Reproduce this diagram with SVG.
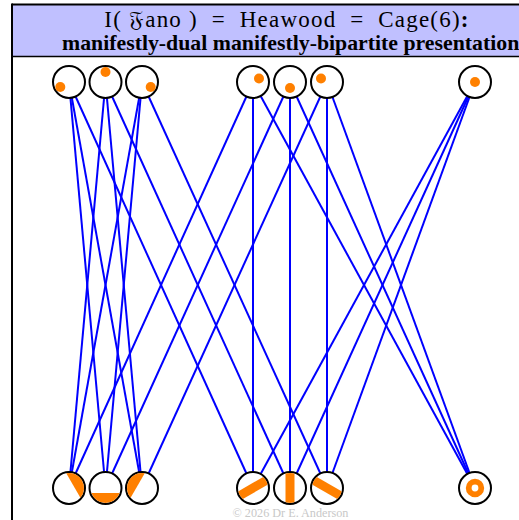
<svg xmlns="http://www.w3.org/2000/svg" width="519" height="520" viewBox="0 0 519 520">
  <defs>
    <style>
      .edge { stroke: #0000ff; stroke-width: 2; fill: none; }
      .node { fill: #ffffff; stroke: #000000; stroke-width: 2; }
      .mark { fill: #ff8000; }
      .ring { fill: none; stroke: #ff8000; stroke-width: 5.8; }
      .title { font-family: "Liberation Serif", serif; font-size: 23px; letter-spacing: 1.2px; fill: #000; }
      .sub { font-family: "Liberation Serif", serif; font-size: 21.8px; font-weight: bold; fill: #000; }
      .credit { font-family: "Liberation Serif", serif; font-size: 12.2px; fill: #c8c8c8; }
    </style>
    <clipPath id="inner">
      <circle cx="0" cy="0" r="15"/>
    </clipPath>
  </defs>

  <!-- header band -->
  <rect x="12" y="4.5" width="520" height="52" fill="#c0c0ff"/>
  <line x1="12" y1="4.5" x2="519" y2="4.5" stroke="#000" stroke-width="2"/>
  <line x1="12" y1="56.5" x2="519" y2="56.5" stroke="#000" stroke-width="1.5"/>
  <line x1="12" y1="3.5" x2="12" y2="520" stroke="#000" stroke-width="2"/>
  <text class="title" x="287" y="27" text-anchor="middle" xml:space="preserve">I( <tspan font-family="DejaVu Serif, DejaVu Sans, serif">𝔉</tspan>ano )  =  Heawood  =  Cage(6)<tspan font-weight="bold">:</tspan></text>
  <text class="sub" x="62" y="50">manifestly-dual manifestly-bipartite presentation</text>

  <!-- incidence connectors: points (top) to lines (bottom) -->
  <g id="connectors">
    <line class="edge" x1="69" y1="82" x2="105.5" y2="488"/>
    <line class="edge" x1="69" y1="82" x2="142" y2="488"/>
    <line class="edge" x1="69" y1="82" x2="253" y2="488"/>
    <line class="edge" x1="105.5" y1="82" x2="69" y2="488"/>
    <line class="edge" x1="105.5" y1="82" x2="142" y2="488"/>
    <line class="edge" x1="105.5" y1="82" x2="290" y2="488"/>
    <line class="edge" x1="142" y1="82" x2="69" y2="488"/>
    <line class="edge" x1="142" y1="82" x2="105.5" y2="488"/>
    <line class="edge" x1="142" y1="82" x2="327" y2="488"/>
    <line class="edge" x1="253" y1="82" x2="69" y2="488"/>
    <line class="edge" x1="253" y1="82" x2="253" y2="488"/>
    <line class="edge" x1="253" y1="82" x2="475" y2="488"/>
    <line class="edge" x1="290" y1="82" x2="105.5" y2="488"/>
    <line class="edge" x1="290" y1="82" x2="290" y2="488"/>
    <line class="edge" x1="290" y1="82" x2="475" y2="488"/>
    <line class="edge" x1="327" y1="82" x2="142" y2="488"/>
    <line class="edge" x1="327" y1="82" x2="327" y2="488"/>
    <line class="edge" x1="327" y1="82" x2="475" y2="488"/>
    <line class="edge" x1="475" y1="82" x2="253" y2="488"/>
    <line class="edge" x1="475" y1="82" x2="290" y2="488"/>
    <line class="edge" x1="475" y1="82" x2="327" y2="488"/>
  </g>

  <!-- points of the Fano plane -->
  <g id="p1" transform="translate(69,82)"><circle class="node" r="16"/><circle class="mark" cx="-8.7" cy="5" r="5"/></g>
  <g id="p2" transform="translate(105.5,82)"><circle class="node" r="16"/><circle class="mark" cx="0" cy="-10" r="5"/></g>
  <g id="p3" transform="translate(142,82)"><circle class="node" r="16"/><circle class="mark" cx="8.7" cy="5" r="5"/></g>
  <g id="p4" transform="translate(253,82)"><circle class="node" r="16"/><circle class="mark" cx="6" cy="-3.5" r="5"/></g>
  <g id="p5" transform="translate(290,82)"><circle class="node" r="16"/><circle class="mark" cx="0" cy="6" r="5"/></g>
  <g id="p6" transform="translate(327,82)"><circle class="node" r="16"/><circle class="mark" cx="-6" cy="-3.5" r="5"/></g>
  <g id="p7" transform="translate(475,82)"><circle class="node" r="16"/><circle class="mark" cx="0" cy="0" r="5"/></g>

  <!-- lines of the Fano plane -->
  <g id="l1" transform="translate(69,488)"><circle class="node" r="16"/><path class="mark" d="M-2.74 -14.75 A15 15 0 0 1 11.4 9.75 Z"/></g>
  <g id="l2" transform="translate(105.5,488)"><circle class="node" r="16"/><path class="mark" d="M-14.14 5 A15 15 0 0 0 14.14 5 Z"/></g>
  <g id="l3" transform="translate(142,488)"><circle class="node" r="16"/><path class="mark" d="M2.74 -14.75 A15 15 0 0 0 -11.4 9.75 Z"/></g>
  <g id="l4" transform="translate(253,488)"><circle class="node" r="16"/><g clip-path="url(#inner)"><rect class="mark" x="-20" y="-4.5" width="40" height="9" transform="rotate(-30)"/></g></g>
  <g id="l5" transform="translate(290,488)"><circle class="node" r="16"/><g clip-path="url(#inner)"><rect class="mark" x="-4.5" y="-20" width="9" height="40"/></g></g>
  <g id="l6" transform="translate(327,488)"><circle class="node" r="16"/><g clip-path="url(#inner)"><rect class="mark" x="-20" y="-4.5" width="40" height="9" transform="rotate(30)"/></g></g>
  <g id="l7" transform="translate(475,488)"><circle class="node" r="16"/><circle class="ring" r="6.3"/></g>

  <text class="credit" x="290.5" y="517" text-anchor="middle">© 2026 Dr E. Anderson</text>
</svg>
